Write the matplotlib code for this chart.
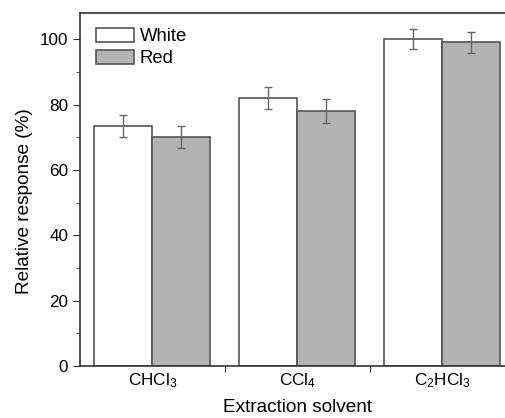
import numpy as np
import matplotlib
matplotlib.use("Agg")
import matplotlib.pyplot as plt
from matplotlib.ticker import MultipleLocator

# --- data ---
solvents = [r"$\mathregular{CHCl_3}$", r"$\mathregular{CCl_4}$", r"$\mathregular{C_2HCl_3}$"]
white_vals = [73.5, 82.0, 100.0]
white_err = [3.3, 3.5, 3.0]
red_vals = [70.1, 78.0, 99.0]
red_err = [3.4, 3.6, 3.1]

EDGE, GRAY, ERR = "#555555", "#b3b3b3", "#666666"

plt.rcParams.update({"font.family": ["Liberation Sans", "DejaVu Sans"],
                     "mathtext.fontset": "custom",
                     "mathtext.rm": "Liberation Sans",
                     "font.size": 12.3})

W, H, DPI = 506, 418, 100
fig = plt.figure(figsize=(W / DPI, H / DPI), dpi=DPI)
# axes extends past the right edge (the reference is cropped there)
ax = fig.add_axes([80 / W, 52 / H, 434.5 / W, 353 / H])

x = np.arange(1, len(solvents) + 1)
bw = 0.4
ax.bar(x - bw / 2, white_vals, bw, color="white", edgecolor=EDGE, lw=1.2,
       label="White", zorder=2)
ax.bar(x + bw / 2, red_vals, bw, color=GRAY, edgecolor=EDGE, lw=1.2,
       label="Red", zorder=2)
ax.errorbar(x - bw / 2, white_vals, yerr=white_err, fmt="none", ecolor=ERR,
            elinewidth=1, capsize=3, capthick=1, zorder=3)
ax.errorbar(x + bw / 2, red_vals, yerr=red_err, fmt="none", ecolor=ERR,
            elinewidth=1, capsize=3, capthick=1, zorder=3)

ax.set_xlim(0.5, 3.5)
ax.set_ylim(0, 108)
ax.yaxis.set_major_locator(MultipleLocator(20))
ax.yaxis.set_minor_locator(MultipleLocator(10))
ax.set_xticks([1.5, 2.5])
ax.set_xticklabels([])
ax.set_xticks(x, minor=True)
ax.set_xticklabels(solvents, minor=True)
ax.tick_params(axis="x", which="minor", length=0, pad=4)
ax.tick_params(axis="x", which="major", length=4, direction="out", color="#333333")
ax.tick_params(axis="y", which="major", length=5, color="#333333")
ax.tick_params(axis="y", which="minor", length=3, color="#333333")
for s in ax.spines.values():
    s.set_color("#333333")
    s.set_linewidth(1.2)

ax.set_ylabel("Relative response (%)", fontsize=13.7)
ax.yaxis.set_label_coords(-0.108, 0.466)
ax.set_xlabel("Extraction solvent", fontsize=13.7, labelpad=6.5)

ax.legend(loc="upper left", frameon=False, fontsize=13.3,
          handlelength=2.06, handleheight=0.79,
          borderpad=0, borderaxespad=0, labelspacing=0.25, handletextpad=0.32,
          bbox_to_anchor=(15.7 / 434.5, 1 - 15 / 353))

fig.savefig("out.png", dpi=DPI)
